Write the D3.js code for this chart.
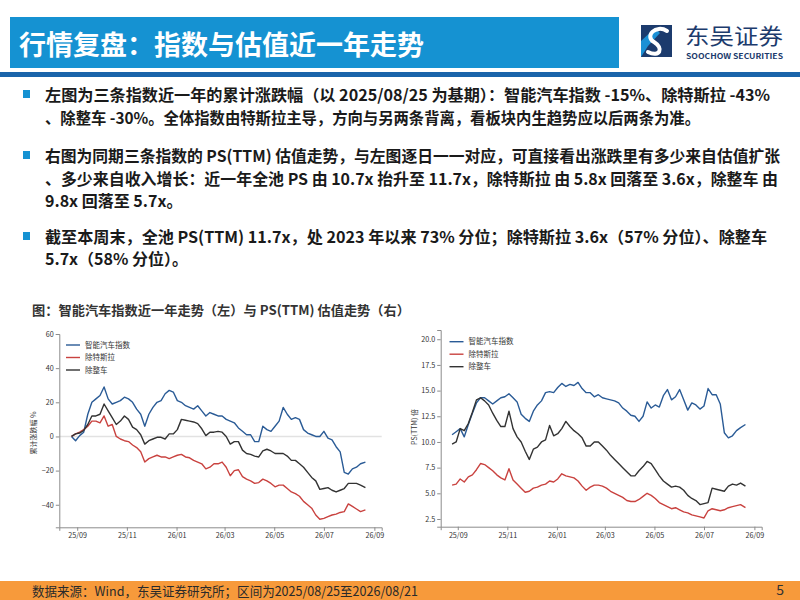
<!DOCTYPE html>
<html>
<head>
<meta charset="utf-8">
<script src="https://cdn.jsdelivr.net/npm/d3@7"></script>
<style>
  html, body { margin: 0; padding: 0; background: #fff; }
  svg { display: block; }
  text { font-family: "Noto Sans CJK SC", "Noto Sans", sans-serif; }
</style>
</head>
<body>
<svg id="page" width="800" height="600"></svg>
<script>
// dates shared by all six series (read every ~5 days off the picture)
const dates = [
  '2025-08-25','2025-08-30','2025-09-04','2025-09-09','2025-09-14','2025-09-19','2025-09-24','2025-09-29',
  '2025-10-04','2025-10-09','2025-10-14','2025-10-19','2025-10-24','2025-10-29','2025-11-03','2025-11-08',
  '2025-11-13','2025-11-18','2025-11-23','2025-11-28','2025-12-03','2025-12-08','2025-12-13','2025-12-18',
  '2025-12-23','2025-12-28','2026-01-02','2026-01-07','2026-01-12','2026-01-17','2026-01-22','2026-01-27',
  '2026-02-01','2026-02-06','2026-02-11','2026-02-16','2026-02-21','2026-02-26','2026-03-03','2026-03-08',
  '2026-03-13','2026-03-18','2026-03-23','2026-03-28','2026-04-02','2026-04-07','2026-04-12','2026-04-17',
  '2026-04-22','2026-04-27','2026-05-02','2026-05-07','2026-05-12','2026-05-17','2026-05-22','2026-05-27',
  '2026-06-01','2026-06-06','2026-06-11','2026-06-16','2026-06-21','2026-06-26','2026-07-01','2026-07-06',
  '2026-07-11','2026-07-16','2026-07-21','2026-07-26','2026-07-31','2026-08-05','2026-08-10','2026-08-15',
  '2026-08-21'
]

// left chart: cumulative change, %
const chgAll = [0,-2.5,0.5,2.5,13,20,22,24,29,22, 19,20,21,23,22,20,16,13,6,13,
  17,20,21,25,27,26,21,20,18,17, 16,18,15,12,14,13,12,12,10,9,
  8,5,3,1,1,-3,-3,6,4,3, 6,9,17,13,10,11,10,4,2,1,
  0,0,3,-1,-2,-6,-9,-21,-22,-19, -18,-16,-15]
const chgExTesla = [0,1.5,2.5,4,6,9,9,8,12,6, 7,0,-1.5,-2.5,-3,-5,-6.5,-9,-15,-13,
  -12,-11,-12,-12,-13,-12,-11,-10.5,-12,-12.5, -14,-15,-16,-19,-18,-16,-16,-15,-18,-23,
  -20,-19.5,-23.5,-25,-26,-27.5,-27,-25,-26,-27.5, -29.5,-28.5,-28.5,-30.5,-32.5,-33.5,-35,-38,-40,-42,
  -46,-48.5,-48,-47,-46,-45.5,-44.5,-44,-39.5,-41, -42.5,-44,-43]
const chgExOem = [0,1.5,2,3.5,7,12,12,13,19,15, 11,7,9,12,10,5.5,4,1,-4.5,-2.5,
  -1.5,-0.5,-0.5,-1.5,1.5,1.5,4,10,9.5,9, 8.5,7.5,4.5,0.5,2.5,2.5,3,2.5,0,-4.5,
  -3,-3,-8,-10,-10.5,-11.5,-12,-8.5,-7.5,-8.5, -10,-10,-10,-11.5,-14,-14,-16,-18,-21,-24,
  -26,-31,-30.5,-30,-31.5,-32.5,-31.5,-30.5,-27.5,-27.5, -27.5,-28.5,-30]

// right chart: PS(TTM), times
const psAll = [10.7,11.0,11.3,10.5,11.7,12.8,13.8,14.3,14.3,14.0, 13.7,14.0,14.3,14.4,14.7,14.3,13.9,12.7,12.3,12.0,
  13.0,13.6,14.0,14.8,14.9,14.8,15.3,15.7,15.4,15.6, 15.5,15.8,15.2,14.8,14.8,14.4,14.6,14.3,14.2,14.1,
  14.0,13.8,13.3,13.0,12.6,12.5,12.0,12.5,13.9,13.3, 13.6,13.4,14.5,15.1,14.1,14.4,15.1,14.1,13.1,13.8,
  13.6,13.2,13.5,15.2,14.6,14.6,13.7,10.9,10.4,10.6, 11.1,11.4,11.7]
const psExTesla = [5.8,5.9,6.4,6.1,6.6,6.8,7.3,7.9,7.8,7.5, 7.2,6.8,6.5,6.3,7.4,6.3,5.9,5.5,5.1,5.2,
  5.5,5.6,5.8,5.9,6.2,6.1,6.4,6.9,6.7,6.6, 6.5,6.2,5.7,5.3,5.6,5.8,5.8,5.7,5.5,5.2,
  5.0,4.8,4.6,4.3,4.2,4.2,4.4,4.7,5.0,4.8, 4.5,4.1,3.9,3.7,3.5,3.6,3.4,3.2,3.1,2.9,
  2.8,2.7,2.6,3.3,3.5,3.4,3.3,3.4,3.6,3.7, 3.8,3.9,3.6]
const psExOem = [9.8,10.0,11.3,11.1,11.8,12.9,14.1,14.3,14.0,13.6, 12.8,12.1,11.5,11.5,13.0,11.3,10.5,10.0,9.1,8.3,
  9.3,9.5,10.0,10.2,11.6,10.6,10.8,11.3,12.0,11.5, 11.1,10.8,10.4,9.6,9.6,10.0,10.0,9.6,9.2,8.7,
  8.3,7.9,7.5,7.1,6.7,6.7,7.2,7.6,8.1,7.9, 7.3,6.7,6.2,5.9,5.6,5.7,5.6,5.3,4.8,4.5,
  4.3,3.9,4.0,4.1,5.5,5.4,5.3,5.2,5.7,5.9, 5.8,6.0,5.7]

const seriesNames = ['智能汽车指数', '除特斯拉', '除整车']
const seriesColors = ['#2a5b96', '#c9423f', '#333333']
const xTickDates = ['2025-09-01','2025-11-01','2026-01-01','2026-03-01','2026-05-01','2026-07-01','2026-09-01']
const yTicksChg = [-40, -20, 0, 20, 40, 60]
const yTicksPs = [2.5, 5, 7.5, 10, 12.5, 15, 17.5, 20]

const bulletLines = [
  ['左图为三条指数近一年的累计涨跌幅（以 2025/08/25 为基期）：智能汽车指数 -15%、除特斯拉 -43%',
   '、除整车 -30%。全体指数由特斯拉主导，方向与另两条背离，看板块内生趋势应以后两条为准。'],
  ['右图为同期三条指数的 PS(TTM) 估值走势，与左图逐日一一对应，可直接看出涨跌里有多少来自估值扩张',
   '、多少来自收入增长：近一年全池 PS 由 10.7x 抬升至 11.7x，除特斯拉 由 5.8x 回落至 3.6x，除整车 由',
   '9.8x 回落至 5.7x。'],
  ['截至本周末，全池 PS(TTM) 11.7x，处 2023 年以来 73% 分位；除特斯拉 3.6x（57% 分位）、除整车',
   '5.7x（58% 分位）。']
]

const parse = d3.timeParse('%Y-%m-%d')
const svg = d3.select('#page')

// ---- header ----
svg.append('rect').attr('x', 10).attr('y', 17).attr('width', 609).attr('height', 51).attr('fill', '#1592d2')
svg.append('text').attr('x', 19).attr('y', 55)
  .attr('fill', '#fff').attr('font-size', 27).attr('font-weight', 700)
  .text('行情复盘：指数与估值近一年走势')
svg.append('rect').attr('x', 0).attr('y', 72).attr('width', 800).attr('height', 5).attr('fill', '#1a64aa')

// logo
let logo = svg.append('g')
logo.append('rect').attr('x', 641).attr('y', 25).attr('width', 31).attr('height', 32).attr('fill', '#1c3b6d')
logo.append('path').attr('d', 'M641,57 L641,41 L655,28 L660,33 L648,46 Z').attr('fill', '#1b90d5')
logo.append('path').attr('d', 'M667,31 C656,24 644,36 654,42 C664,48 660,58 648,52')
  .attr('fill', 'none').attr('stroke', '#fff').attr('stroke-width', 4).attr('stroke-linecap', 'round')
logo.append('text').attr('x', 685).attr('y', 44).attr('fill', '#1c3b6d').attr('font-size', 22)
  .attr('textLength', 98).attr('lengthAdjust', 'spacingAndGlyphs').text('东吴证券')
logo.append('text').attr('x', 686).attr('y', 58.5).attr('fill', '#1c3b6d').attr('font-size', 7)
  .attr('font-weight', 700).attr('font-family', 'Roboto, sans-serif')
  .attr('textLength', 97).attr('lengthAdjust', 'spacingAndGlyphs').text('SOOCHOW SECURITIES')

// ---- bullet text ----
const baselines = [[101, 124], [162, 185, 207], [243, 265]]
const lineEnds = [[770, 700], [780, 778, null], [767, null]]
bulletLines.forEach((lines, i) => {
  svg.append('rect').attr('x', 23).attr('y', baselines[i][0] - 11).attr('width', 7).attr('height', 8)
    .attr('fill', '#1592d2')
  lines.forEach((t, j) => {
    let txt = svg.append('text').attr('x', 45).attr('y', baselines[i][j])
      .attr('font-size', 16).attr('font-weight', 700).attr('fill', '#1a1a1a').text(t)
    if (lineEnds[i][j]) txt.attr('textLength', lineEnds[i][j] - 45).attr('lengthAdjust', 'spacingAndGlyphs')
  })
})

svg.append('text').attr('x', 32).attr('y', 315).attr('font-size', 13).attr('font-weight', 700)
  .attr('fill', '#333').attr('textLength', 378).attr('lengthAdjust', 'spacingAndGlyphs')
  .text('图：智能汽车指数近一年走势（左）与 PS(TTM) 估值走势（右）')

// ---- charts ----
function drawChart(cfg) {
  let g = svg.append('g')
  let x = d3.scaleTime().domain(cfg.xDomain.map(parse)).range(cfg.xRange)
  let y = d3.scaleLinear().domain(cfg.yDomain).range(cfg.yRange)

  if (cfg.zeroLine)
    g.append('line').attr('x1', cfg.xRange[0]).attr('x2', cfg.xRange[1])
      .attr('y1', y(0)).attr('y2', y(0)).attr('stroke', '#e2e2e2').attr('stroke-width', 1.5)

  let line = d3.line().x((d, i) => x(parse(dates[i]))).y(d => y(d))
  cfg.series.forEach((s, i) => {
    g.append('path').datum(s).attr('d', line)
      .attr('fill', 'none').attr('stroke', seriesColors[i]).attr('stroke-width', 1.4)
      .attr('stroke-linejoin', 'round')
  })

  let ax = g.append('g').attr('transform', `translate(0,${cfg.yRange[0]})`)
    .call(d3.axisBottom(x).tickValues(xTickDates.map(parse)).tickFormat(d3.timeFormat('%y/%m'))
      .tickSizeOuter(0).tickSize(3.5).tickPadding(2.5))
  let ay = g.append('g').attr('transform', `translate(${cfg.xRange[0]},0)`)
    .call(d3.axisLeft(y).tickValues(cfg.yTicks).tickFormat(cfg.yFormat)
      .tickSizeOuter(0).tickSize(3.5).tickPadding(2))
  for (let a of [ax, ay]) {
    a.select('.domain').attr('stroke', '#8c8c8c')
    a.selectAll('.tick line').attr('stroke', '#8c8c8c')
    a.selectAll('.tick text').attr('fill', '#333').attr('font-size', 7.2)
      .attr('font-family', '"Open Sans", "Noto Sans", sans-serif')
  }

  g.append('text').attr('transform', `translate(${cfg.yLabelPos[0]},${cfg.yLabelPos[1]}) rotate(-90)`)
    .attr('text-anchor', 'middle').attr('font-size', 7).attr('fill', '#333').text(cfg.yLabel)

  seriesNames.forEach((n, i) => {
    let ly = cfg.legendPos[1] + i * 12.5
    g.append('line').attr('x1', cfg.legendPos[0]).attr('x2', cfg.legendPos[0] + 14)
      .attr('y1', ly).attr('y2', ly).attr('stroke', seriesColors[i]).attr('stroke-width', 1.4)
    g.append('text').attr('x', cfg.legendPos[0] + 19).attr('y', ly + 2.6)
      .attr('font-size', 7.5).attr('fill', '#333').text(n)
  })
}

drawChart({
  series: [chgAll, chgExTesla, chgExOem],
  xDomain: ['2025-08-10', '2026-09-10'], xRange: [59.3, 381.7],
  yDomain: [-53.2, 60], yRange: [527.3, 334],
  yTicks: yTicksChg, yFormat: d3.format('d'),
  zeroLine: true,
  yLabel: '累计涨跌幅 %', yLabelPos: [36, 433],
  legendPos: [66, 345]
})
drawChart({
  series: [psAll, psExTesla, psExOem],
  xDomain: ['2025-08-11', '2026-09-10'], xRange: [440.7, 761.7],
  yDomain: [1.75, 20.9], yRange: [526.7, 330],
  yTicks: yTicksPs, yFormat: d3.format('.1f'),
  zeroLine: false,
  yLabel: 'PS(TTM) 倍', yLabelPos: [417, 427],
  legendPos: [449.5, 341.7]
})

// ---- footer ----
svg.append('rect').attr('x', 0).attr('y', 581).attr('width', 800).attr('height', 19).attr('fill', '#f79a3b')
svg.append('text').attr('x', 32).attr('y', 596).attr('font-size', 13).attr('fill', '#2a2a2a')
  .attr('textLength', 386).attr('lengthAdjust', 'spacingAndGlyphs')
  .text('数据来源：Wind，东吴证券研究所；区间为2025/08/25至2026/08/21')
svg.append('text').attr('x', 784).attr('y', 595).attr('text-anchor', 'end').attr('font-size', 14)
  .attr('font-family', '"Liberation Serif", serif').attr('fill', '#333').text('5')
</script>
</body>
</html>
